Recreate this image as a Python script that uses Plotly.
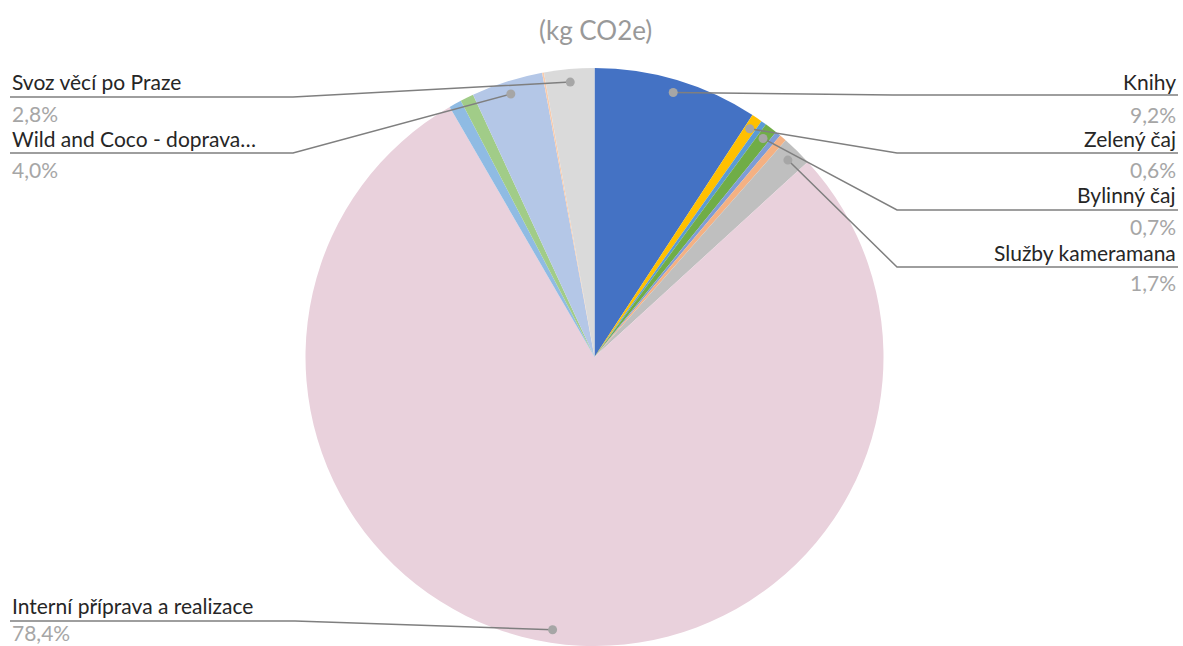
import math
import plotly.graph_objects as go

W, H = 1183, 646

# ---- data (percent of total, clockwise from 12 o'clock) ----
labels = ["Knihy", "Zelený čaj", "Ostatní 1", "Bylinný čaj", "Ostatní 2", "Ostatní 3",
          "Služby kameramana", "Interní příprava a realizace", "Ostatní 4", "Ostatní 5",
          "Wild and Coco - doprava…", "Ostatní 6", "Svoz věcí po Praze"]
values = [9.2, 0.6, 0.3, 0.7, 0.3, 0.4, 1.7, 78.4, 0.7, 0.75, 4.0, 0.1, 2.8]
colors = ["#4472C4", "#FFC000", "#5B9BD5", "#70AD47", "#7E9CD6", "#F4B183",
          "#BFBFBF", "#E9D1DC", "#8FBBE3", "#A1CC88", "#B4C7E7", "#F8CBAD", "#DADADA"]
pct_text = ["9,2%", "0,6%", "", "0,7%", "", "", "1,7%", "78,4%", "", "", "4,0%", "", "2,8%"]

# label layout: (side, name_y, underline_y, pct_y, elbow_x)
label_layout = {
    "Knihy": ("R", 81, 95, 114, 893),
    "Zelený čaj": ("R", 138, 153, 169, 897),
    "Bylinný čaj": ("R", 195, 210, 226, 897),
    "Služby kameramana": ("R", 252, 267, 283, 897),
    "Svoz věcí po Praze": ("L", 81, 97, 113, 293),
    "Wild and Coco - doprava…": ("L", 138, 153, 169, 293),
    "Interní příprava a realizace": ("L", 605, 621, 632, 295),
}

# pie geometry (pixels)
cx, cy, R = 594.5, 357.0, 289.0
dom_x = [(cx - R) / W, (cx + R) / W]
dom_y = [(H - cy - R) / H, (H - cy + R) / H]

fig = go.Figure(go.Pie(
    labels=labels, values=values, sort=False, direction="clockwise", rotation=0,
    marker=dict(colors=colors, line=dict(width=0)),
    textinfo="none", hoverinfo="label+percent", showlegend=False,
    domain=dict(x=dom_x, y=dom_y),
))

def px(x):
    return x / W

def py(y):
    return 1 - y / H

shapes, annotations = [], []
total = sum(values)
cum = 0.0
LINE = "#7F7F7F"
for lab, v, pt in zip(labels, values, pct_text):
    mid = (cum + v / 2) / total * 2 * math.pi
    cum += v
    if lab not in label_layout:
        continue
    side, ny, uy, pyy, ex = label_layout[lab]
    dx = cx + 0.955 * R * math.sin(mid)
    dy = cy - 0.955 * R * math.cos(mid)
    if side == "R":
        xend, anchor, tx = 1178, "right", 1178
    else:
        xend, anchor, tx = 10, "left", 10
    path = f"M {px(dx)},{py(dy)} L {px(ex)},{py(uy)} L {px(xend)},{py(uy)}"
    shapes.append(dict(type="path", xref="paper", yref="paper", path=path,
                       line=dict(color=LINE, width=1.5), layer="above"))
    rd = 4.5
    shapes.append(dict(type="circle", xref="paper", yref="paper",
                       x0=px(dx - rd), x1=px(dx + rd), y0=py(dy + rd), y1=py(dy - rd),
                       fillcolor="#A6A6A6", line=dict(width=0), layer="above"))
    annotations.append(dict(text=lab, x=px(tx), y=py(ny), xref="paper", yref="paper",
                            xanchor=anchor, yanchor="middle", showarrow=False,
                            font=dict(family="Lato", size=21, color="#262626")))
    annotations.append(dict(text=pt, x=px(tx), y=py(pyy), xref="paper", yref="paper",
                            xanchor=anchor, yanchor="middle", showarrow=False,
                            font=dict(family="Lato", size=21, color="#A6A6A6")))

annotations.append(dict(text="(kg CO2e)", x=px(595), y=py(30), xref="paper", yref="paper",
                        xanchor="center", yanchor="middle", showarrow=False,
                        font=dict(family="Lato", size=26, color="#999999")))

fig.update_layout(
    width=W, height=H, margin=dict(l=0, r=0, t=0, b=0),
    paper_bgcolor="white", plot_bgcolor="white",
    shapes=shapes, annotations=annotations,
)

fig.write_html("out.html")
